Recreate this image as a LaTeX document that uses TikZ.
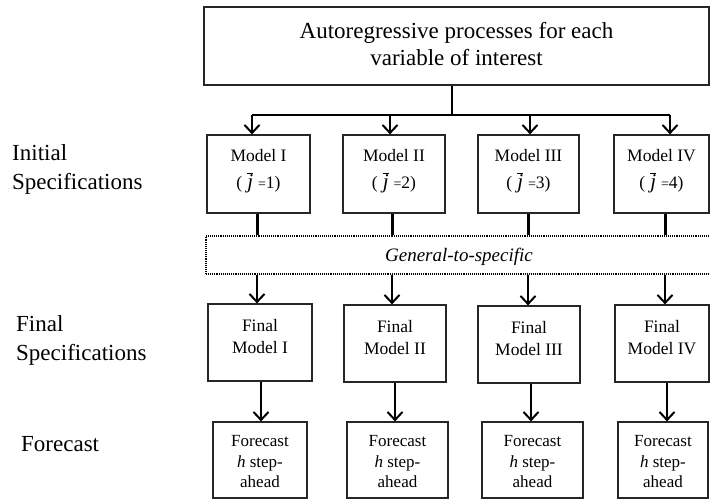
\documentclass[tikz,border=0pt]{standalone}
\usepackage{fontspec}
\setmainfont{Liberation Serif}
\usetikzlibrary{arrows.meta}
\tikzset{
  box/.style={draw=black!85, line width=1.2pt, inner sep=0pt, rectangle},
  txt/.style={inner sep=0pt, align=center},
  bigtxt/.style={font=\fontsize{23}{27}\selectfont},
  midtxt/.style={font=\fontsize{17.5}{21}\selectfont},
  fintxt/.style={font=\fontsize{17.5}{22}\selectfont},
  fortxt/.style={font=\fontsize{17}{20.5}\selectfont},
  lbl/.style={inner sep=0pt, align=left, font=\fontsize{23}{29}\selectfont},
  arr/.style={-{Straight Barb[length=8pt,width=15pt]}, line width=2pt},
  thk/.style={line width=3pt},
  dotbox/.style={draw=black, line width=1.6pt, dash pattern=on 1pt off 0.9pt, inner sep=0pt, rectangle}
}
\newcommand{\jbar}{{\fontsize{21}{21}\selectfont$\overline{\mbox{\textit{j}}}$}}
\newcommand{\jeq}[1]{(\hspace{5pt}\jbar\hspace{5pt}{\fontsize{14}{14}\selectfont=}#1)}
\begin{document}
\begin{tikzpicture}[x=1pt,y=-1pt]
\useasboundingbox (0,0) rectangle (710,500);
% top box
\node[box, minimum width=505pt, minimum height=78pt] (top) at (456.5,46) {};
\node[txt, bigtxt] (topt) at ([yshift=2pt]top.center) {Autoregressive processes for each\\variable of interest};
\coordinate (hub) at (452,115);
\coordinate (a1) at (252,115);
\coordinate (a2) at (390,115);
\coordinate (a3) at (530,115);
\coordinate (a4) at (670,115);
\draw[line width=1.2pt] (top.south -| hub) -- (hub);
\draw[line width=1.7pt] (a1) -- (a4);
% model boxes
\node[box, minimum width=103pt, minimum height=78pt] (m1) at (258.5,174) {};
\node[box, minimum width=102pt, minimum height=78pt] (m2) at (394,174) {};
\node[box, minimum width=101pt, minimum height=78pt] (m3) at (528.5,174) {};
\node[box, minimum width=95pt, minimum height=78pt] (m4) at (661.5,174) {};
\node[txt, midtxt] (m1t) at ([yshift=3pt]m1.center) {Model I\\[6pt]\jeq{1}};
\node[txt, midtxt] (m2t) at ([yshift=3pt]m2.center) {Model II\\[6pt]\jeq{2}};
\node[txt, midtxt] (m3t) at ([yshift=3pt]m3.center) {Model III\\[6pt]\jeq{3}};
\node[txt, midtxt] (m4t) at ([yshift=3pt]m4.center) {Model IV\\[6pt]\jeq{4}};
\foreach \i in {1,...,4} \draw[arr] (a\i) -- (a\i |- m\i.north);
% general-to-specific
\node[dotbox, minimum width=506pt, minimum height=38pt] (g) at (459,255) {};
\node[txt, font=\fontsize{19}{22}\selectfont\itshape] (gt) at ([yshift=-2pt]g.center) {General-to-specific};
\coordinate (b1) at (257,0);
\coordinate (b2) at (392,0);
\coordinate (b3) at (528,0);
\coordinate (b4) at (665,0);
% final boxes
\node[box, minimum width=104pt, minimum height=77pt] (f1) at (260,342.5) {};
\node[box, minimum width=102pt, minimum height=77pt] (f2) at (395,343.5) {};
\node[box, minimum width=102pt, minimum height=77pt] (f3) at (529,344.5) {};
\node[box, minimum width=94pt, minimum height=77pt] (f4) at (662,343.5) {};
\node[txt, fintxt] (f1t) at ([yshift=6pt]f1.center) {Final\\Model I};
\node[txt, fintxt] (f2t) at ([yshift=6pt]f2.center) {Final\\Model II};
\node[txt, fintxt] (f3t) at ([yshift=6pt]f3.center) {Final\\Model III};
\node[txt, fintxt] (f4t) at ([yshift=6pt]f4.center) {Final\\Model IV};
\foreach \i in {1,...,4} {
  \draw[thk] (m\i.south -| b\i) -- (g.north -| b\i);
  \draw[arr] (g.south -| b\i) -- (f\i.north -| b\i);
}
% forecast boxes
\node[box, minimum width=94pt, minimum height=76pt] (r1) at (260,460) {};
\node[box, minimum width=101pt, minimum height=76pt] (r2) at (397.5,460) {};
\node[box, minimum width=101pt, minimum height=76pt] (r3) at (532.5,460) {};
\node[box, minimum width=90pt, minimum height=76pt] (r4) at (663,460) {};
\foreach \i in {1,...,4}
  \node[txt, fortxt] (r\i t) at ([yshift=-2pt]r\i.center) {Forecast\\\textit{h} step-\\ahead};
\coordinate (c1) at (261,0);
\coordinate (c2) at (395,0);
\coordinate (c3) at (531,0);
\coordinate (c4) at (667,0);
\foreach \i in {1,...,4} \draw[arr] (f\i.south -| c\i) -- (r\i.north -| c\i);
% left labels
\node[lbl, anchor=west] (li) at (12,169) {Initial\\Specifications};
\node[lbl, anchor=west] (lf) at (16,340) {Final\\Specifications};
\node[lbl, anchor=base west] (lr) at (21,451) {Forecast};
\end{tikzpicture}
\end{document}
